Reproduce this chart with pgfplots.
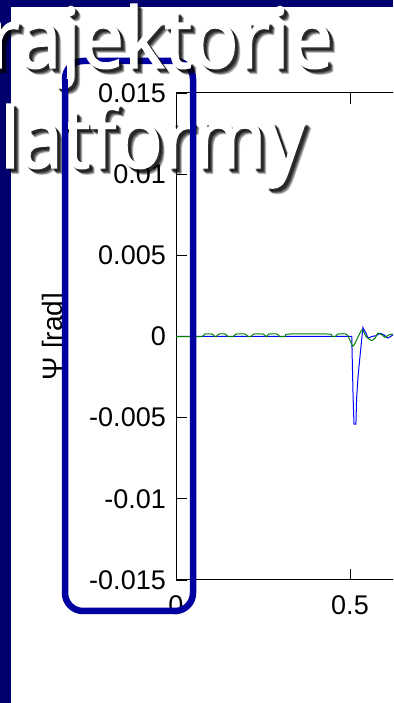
\documentclass[border=0pt]{standalone}
\usepackage{pgfplots}
\pgfplotsset{compat=1.18}
\usepackage{fontspec}
\setmainfont{Liberation Sans}
\newfontfamily\titlefont[FakeBold=1.6,FakeStretch=0.92]{Open Sans}
\definecolor{navy}{RGB}{0,0,110}
\definecolor{boxblue}{RGB}{0,0,160}
\definecolor{mgreen}{RGB}{0,128,0}
\definecolor{mblue}{RGB}{0,0,255}
\newcommand{\tl}{\titlefont\fontsize{84}{84}\selectfont}
\begin{document}
\begin{tikzpicture}
\useasboundingbox (0,0) rectangle (393pt,703pt);
\clip (0,0) rectangle (393pt,703pt);
\fill[white] (0,0) rectangle (393pt,703pt);
\begin{axis}[
  at={(176pt,123pt)}, anchor=south west,
  scale only axis, width=348pt, height=487pt,
  xmin=0, xmax=1, ymin=-0.015, ymax=0.015,
  scaled x ticks=false, scaled y ticks=false,
  xtick={0,0.5}, xticklabels={0,0.5},
  ytick={-0.015,-0.01,-0.005,0,0.005,0.01,0.015},
  yticklabels={-0.015,-0.01,-0.005,0,0.005,0.01,0.015},
  tick align=inside, major tick length=11pt,
  tick style={black, line width=0.8pt},
  axis line style={line width=1pt},
  ticklabel style={font=\fontsize{27}{27}\selectfont},
  yticklabel style={anchor=east, inner sep=0pt, xshift=-10pt},
  xticklabel style={anchor=north, inner sep=0pt, yshift=-15pt},
  ylabel={Ψ [rad]},
  ylabel style={at={(axis description cs:-0.3477,0.5)}, anchor=center, font=\fontsize{28}{28}\selectfont},
  clip=true,
]
\addplot[mblue, line width=1pt] coordinates {
(0,0) (0.505,0) (0.509,-0.0038) (0.5115,-0.0054) (0.517,-0.0054) (0.519,-0.0038)
(0.523,-0.0025) (0.527,-0.0016) (0.537,0.00055) (0.546,0.0002) (0.552,-0.0001)
(0.563,0) (0.575,0.00005) (0.586,0.0002) (0.598,0.0001) (0.609,-0.0001)
(0.624,0.0001) (0.65,0)
};
\addplot[mgreen, line width=1pt, smooth, tension=0.3] coordinates {
(0,0) (0.075,0) (0.082,0.00015) (0.104,0.00015) (0.111,0)
(0.116,0) (0.123,0.00015) (0.142,0.00015) (0.149,0)
(0.165,0) (0.172,0.00015) (0.199,0.00015) (0.206,0)
(0.216,0) (0.223,0.00015) (0.251,0.00015) (0.258,0)
(0.261,0) (0.266,0.00015) (0.291,0.00015) (0.298,0)
(0.314,0) (0.321,0.00015) (0.441,0.00015) (0.448,0)
(0.458,0) (0.465,0.00015) (0.489,0.00015) (0.494,0.00005)
(0.508,-0.0006) (0.517,-0.0003) (0.533,0.0004) (0.537,0.0004) (0.546,0)
(0.562,-0.00025) (0.572,-0.0001) (0.580,0.0002) (0.592,0.0001) (0.601,-0.00005)
(0.612,0.0001) (0.624,0.00015) (0.65,0)
};
\end{axis}
\draw[boxblue, line width=6.5pt, rounded corners=18pt] (65pt,92pt) rectangle (193pt,642pt);
\fill[navy] (0,0) rectangle (11pt,703pt);
\fill[navy] (0,696pt) rectangle (393pt,703pt);
\foreach \dx/\op in {5.5/0.2,4.5/0.3,3.5/0.4,2.5/0.4}{
  \node[anchor=base west, inner sep=0pt, text=black, opacity=\op] at (-12pt+\dx pt,635pt-\dx pt) {\tl rajektorie};
  \node[anchor=base west, inner sep=0pt, text=black, opacity=\op] at (0pt+\dx pt,535pt-\dx pt) {\tl latformy};
}
\node[anchor=base west, inner sep=0pt, text=white] at (-12pt,635pt) {\tl rajektorie};
\node[anchor=base west, inner sep=0pt, text=white] at (0pt,535pt) {\tl latformy};
\draw[boxblue, line width=6.5pt] (65pt,110pt) -- (65pt,624pt);
\draw[boxblue, line width=6.5pt] (193pt,110pt) -- (193pt,624pt);
\end{tikzpicture}
\end{document}
